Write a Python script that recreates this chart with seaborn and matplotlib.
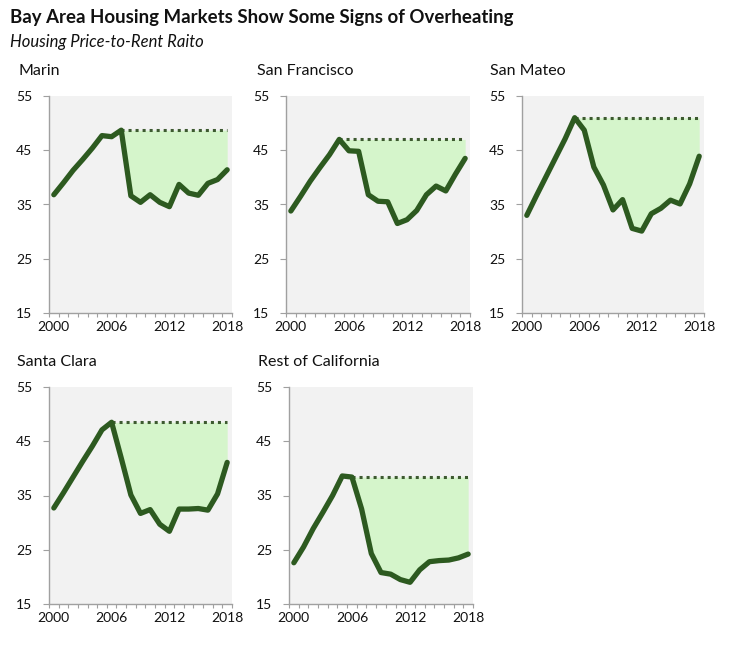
import matplotlib
matplotlib.use("Agg")
import matplotlib.pyplot as plt
import seaborn as sns
import numpy as np

years = list(range(2000, 2019))
regions = ["Marin", "San Francisco", "San Mateo", "Santa Clara", "Rest of California"]
marin = [36.8, 39.0, 41.3, 43.3, 45.4, 47.7, 47.5, 48.7, 36.6, 35.4, 36.8, 35.4, 34.6, 38.7, 37.1, 36.7, 38.9, 39.6, 41.4]
san_francisco = [33.8, 36.5, 39.3, 41.8, 44.2, 47.0, 44.9, 44.8, 36.8, 35.6, 35.5, 31.5, 32.2, 33.9, 36.8, 38.4, 37.5, 40.6, 43.5]
san_mateo = [33.0, 36.6, 40.1, 43.6, 47.1, 51.0, 48.7, 41.9, 38.6, 34.0, 35.9, 30.6, 30.1, 33.3, 34.3, 35.8, 35.1, 38.8, 43.9]
santa_clara = [32.7, 35.5, 38.4, 41.3, 44.1, 47.1, 48.5, 41.9, 35.1, 31.7, 32.4, 29.7, 28.4, 32.5, 32.5, 32.6, 32.3, 35.3, 41.1]
rest_of_ca = [22.6, 25.5, 28.9, 31.9, 35.0, 38.6, 38.4, 32.5, 24.3, 20.8, 20.5, 19.5, 19.0, 21.3, 22.8, 23.0, 23.1, 23.5, 24.2]
peak_years = [2007, 2005, 2005, 2006, 2006]
series = [marin, san_francisco, san_mateo, santa_clara, rest_of_ca]
x_labels = [2000, 2006, 2012, 2018]
y_ticks = [15, 25, 35, 45, 55]

title = "Bay Area Housing Markets Show Some Signs of Overheating"
subtitle = "Housing Price-to-Rent Raito"

W, H = 729, 649
fig = plt.figure(figsize=(W / 100, H / 100), dpi=100)
plt.rcParams['font.family'] = ['Lato', 'DejaVu Sans']

line_c = "#2d5a20"
fill_c = "#d5f5cb"
bg_c = "#f2f2f2"
spine_c = "#a0a0a0"
text_c = "#111111"

# pixel boxes: left, right, top, bottom
boxes = [(49, 232, 96, 313), (286, 470, 96, 313), (522, 704, 96, 313),
         (49, 232, 387, 604), (289, 473, 387, 604)]
title_x = [18, 257, 490, 17, 258]

for i, (name, vals, py) in enumerate(zip(regions, series, peak_years)):
    l, r, t, b = boxes[i]
    ax = fig.add_axes([l / W, 1 - b / H, (r - l) / W, (b - t) / H])
    ax.set_facecolor(bg_c)
    p = years.index(py)
    peak = vals[p]
    ax.fill_between(years[p:], vals[p:], [peak] * len(years[p:]), color=fill_c, linewidth=0, zorder=1)
    ax.plot([years[p], years[-1]], [peak, peak], color="#3d5a30", linewidth=2.2,
            linestyle=(0, (1, 1.3)), zorder=2)
    sns.lineplot(x=years, y=vals, ax=ax, color=line_c, linewidth=3.8, zorder=3)
    for ln in ax.lines[-1:]:
        ln.set_solid_capstyle('round')
        ln.set_solid_joinstyle('round')
    ax.set_xlim(1999.5, 2018.5)
    ax.set_ylim(15, 55)
    ax.set_xticks(x_labels)
    ax.set_xticklabels([str(v) for v in x_labels])
    ax.set_xticks(np.arange(1999.5, 2019.0, 1.0), minor=True)
    ax.set_yticks(y_ticks)
    ax.set_yticklabels([str(v) for v in y_ticks])
    ax.tick_params(axis='x', which='major', length=0, pad=6, labelsize=10, labelcolor=text_c)
    ax.tick_params(axis='x', which='minor', length=3, width=0.8, color=spine_c, direction='out')
    ax.tick_params(axis='y', which='major', length=4, width=0.8, color=spine_c, direction='out',
                   pad=8, labelsize=10, labelcolor=text_c)
    for s in ['top', 'right']:
        ax.spines[s].set_visible(False)
    for s in ['left', 'bottom']:
        ax.spines[s].set_color(spine_c)
        ax.spines[s].set_linewidth(1.0)
    ax.set_xlabel("")
    ax.set_ylabel("")
    fig.text(title_x[i] / W, 1 - (t - 25) / H, name, fontsize=11.5, color=text_c,
             ha='left', va='center')

fig.text(10 / W, 1 - 18 / H, title, fontsize=13.4, fontweight='bold', color="#111111",
         ha='left', va='center')
fig.text(10 / W, 1 - 42 / H, subtitle, fontsize=12, fontstyle='italic', color="#111111",
         ha='left', va='center')

fig.savefig("out.png", dpi=100, facecolor='white')
